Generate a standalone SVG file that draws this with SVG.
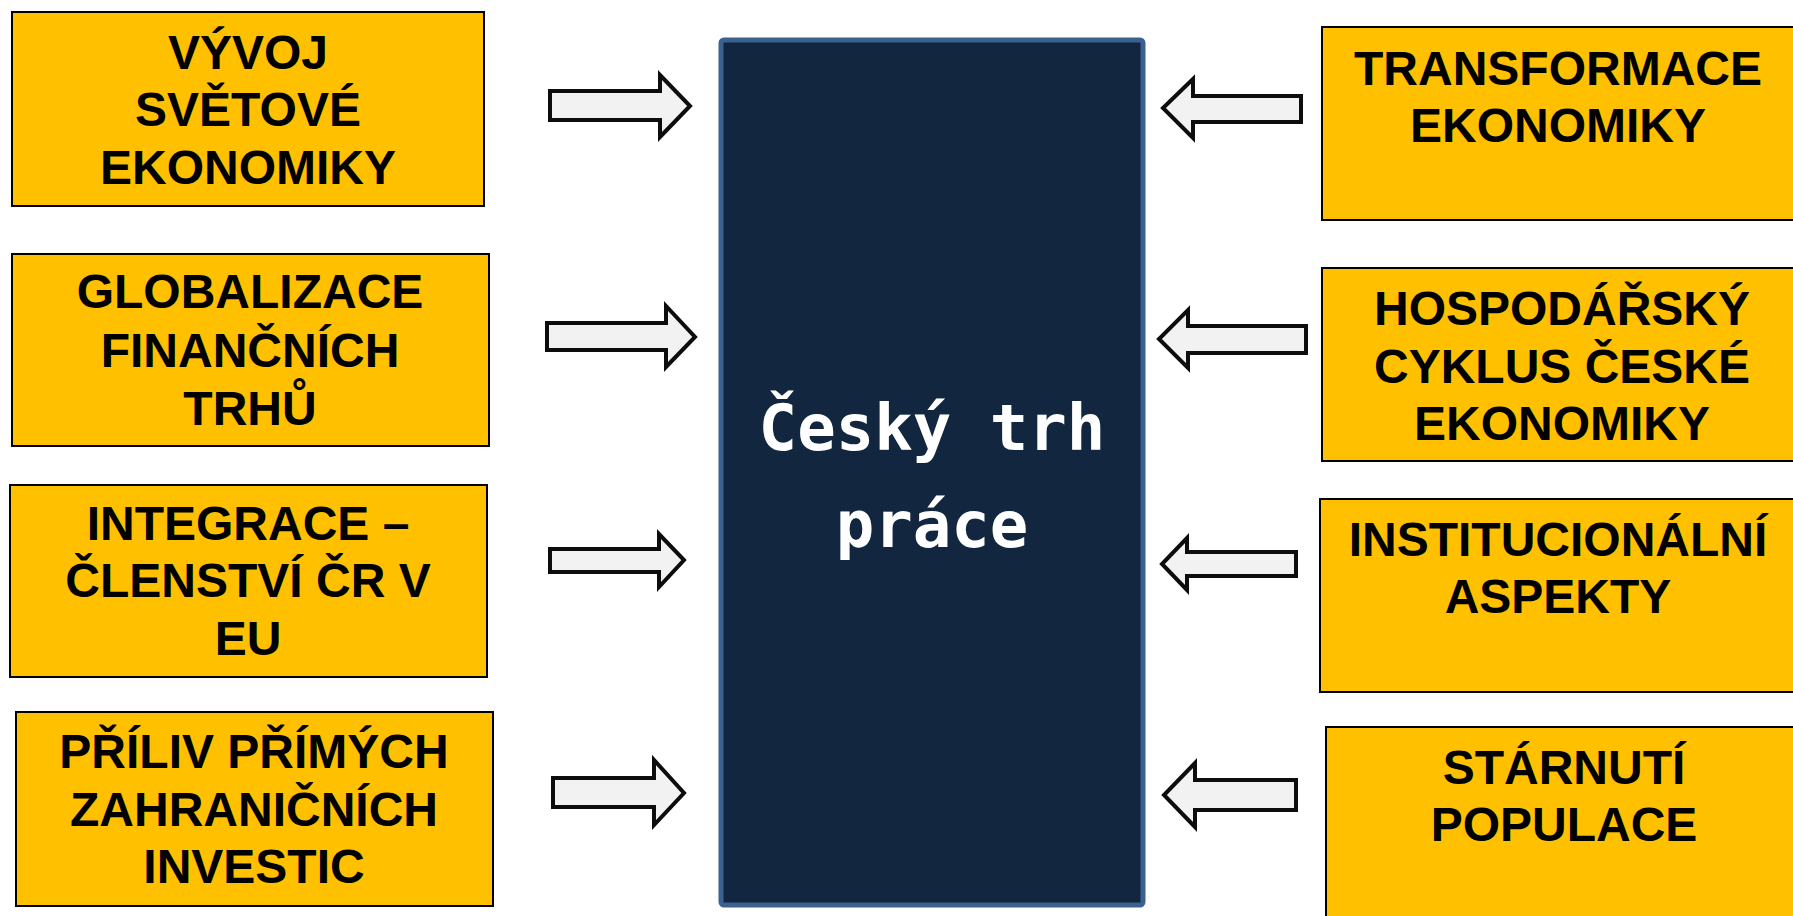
<svg xmlns="http://www.w3.org/2000/svg" width="1793" height="916" viewBox="0 0 1793 916">
  <style>
    .box { fill: #FFC000; stroke: #000000; stroke-width: 2; }
    .lbl { font-family: "Liberation Sans", Arial, sans-serif; font-weight: bold; font-size: 48px; fill: #000000; text-anchor: middle; }
    .arrow { fill: #F2F2F2; stroke: #0D0D0D; stroke-width: 4; stroke-linejoin: miter; }
    .center { fill: #12263F; stroke: #3B6190; stroke-width: 5; }
    .ctext { font-family: "DejaVu Sans Mono", "Liberation Mono", monospace; font-weight: bold; font-size: 64px; fill: #FFFFFF; text-anchor: middle; }
  </style>
  <rect x="0" y="0" width="1793" height="916" fill="#FFFFFF"/>

  <g id="center-node">
    <rect class="center" x="721" y="40" width="422" height="865" rx="3"/>
    <text class="ctext" x="932" y="450">Český trh</text>
    <text class="ctext" x="932" y="547">práce</text>
  </g>

  <g id="node-vyvoj">
    <rect class="box" x="12" y="12" width="472" height="194"/>
    <text class="lbl" x="248" y="69">VÝVOJ</text>
    <text class="lbl" x="248" y="126">SVĚTOVÉ</text>
    <text class="lbl" x="248" y="184">EKONOMIKY</text>
  </g>
  <g id="node-globalizace">
    <rect class="box" x="12" y="254" width="477" height="192"/>
    <text class="lbl" x="250" y="308">GLOBALIZACE</text>
    <text class="lbl" x="250" y="367">FINANČNÍCH</text>
    <text class="lbl" x="250" y="425">TRHŮ</text>
  </g>
  <g id="node-integrace">
    <rect class="box" x="10" y="485" width="477" height="192"/>
    <text class="lbl" x="248" y="540">INTEGRACE –</text>
    <text class="lbl" x="248" y="597">ČLENSTVÍ ČR V</text>
    <text class="lbl" x="248" y="655">EU</text>
  </g>
  <g id="node-priliv">
    <rect class="box" x="16" y="712" width="477" height="194"/>
    <text class="lbl" x="254" y="768">PŘÍLIV PŘÍMÝCH</text>
    <text class="lbl" x="254" y="826">ZAHRANIČNÍCH</text>
    <text class="lbl" x="254" y="883">INVESTIC</text>
  </g>

  <g id="node-transformace">
    <rect class="box" x="1322" y="27" width="476" height="193"/>
    <text class="lbl" x="1558" y="85">TRANSFORMACE</text>
    <text class="lbl" x="1558" y="142">EKONOMIKY</text>
  </g>
  <g id="node-hospodarsky">
    <rect class="box" x="1322" y="268" width="476" height="193"/>
    <text class="lbl" x="1562" y="325">HOSPODÁŘSKÝ</text>
    <text class="lbl" x="1562" y="383">CYKLUS ČESKÉ</text>
    <text class="lbl" x="1562" y="440">EKONOMIKY</text>
  </g>
  <g id="node-institucionalni">
    <rect class="box" x="1320" y="499" width="478" height="193"/>
    <text class="lbl" x="1558" y="556">INSTITUCIONÁLNÍ</text>
    <text class="lbl" x="1558" y="613">ASPEKTY</text>
  </g>
  <g id="node-starnuti">
    <rect class="box" x="1326" y="727" width="472" height="200"/>
    <text class="lbl" x="1564" y="784">STÁRNUTÍ</text>
    <text class="lbl" x="1564" y="841">POPULACE</text>
  </g>

  <g id="connectors">
    <path class="arrow" d="M550,91 H660 V75 L690,106 L660,137 V120 H550 Z"/>
    <path class="arrow" d="M547,323 H666 V306 L695,337 L666,367 V350 H547 Z"/>
    <path class="arrow" d="M550,549 H659 V534 L684,560 L659,587 V572 H550 Z"/>
    <path class="arrow" d="M553,778 H654 V760 L684,793 L654,825 V807 H553 Z"/>
    <path class="arrow" d="M1301,96 H1193 V79 L1163,108 L1193,138 V122 H1301 Z"/>
    <path class="arrow" d="M1306,326 H1188 V310 L1159,339 L1188,368 V353 H1306 Z"/>
    <path class="arrow" d="M1296,552 H1187 V538 L1162,564 L1187,590 V576 H1296 Z"/>
    <path class="arrow" d="M1296,780 H1195 V763 L1164,795 L1195,827 V810 H1296 Z"/>
  </g>
</svg>
